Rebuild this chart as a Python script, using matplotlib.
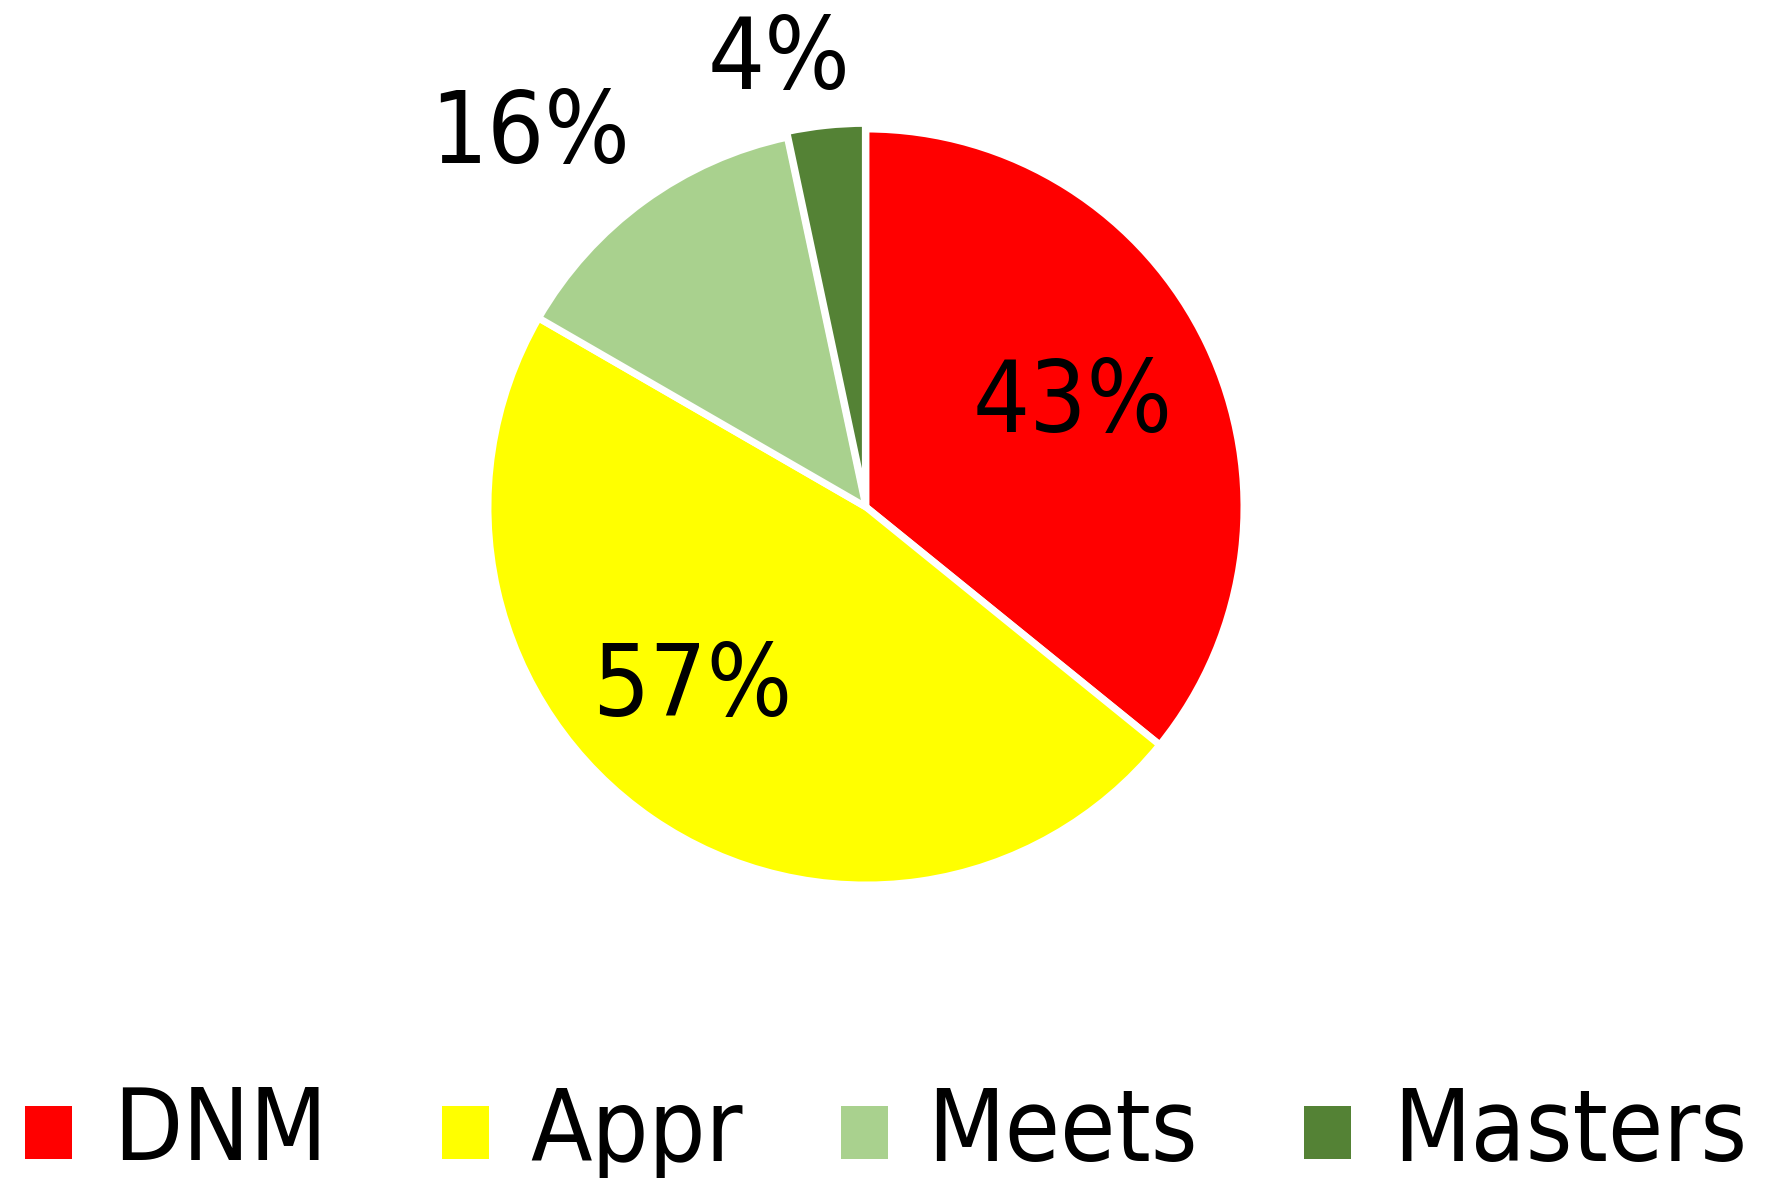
import numpy as np
import matplotlib
matplotlib.use("Agg")
import matplotlib.pyplot as plt
from matplotlib.patches import Rectangle

categories = ["DNM", "Appr", "Meets", "Masters"]
values = [43, 57, 16, 4]
value_labels = ["43%", "57%", "16%", "4%"]
colors = ["#FF0000", "#FFFF00", "#A9D18E", "#548235"]

plt.rcParams['font.family'] = ['DejaVu Sans']

fig = plt.figure(figsize=(17.68, 11.78), dpi=100)
ax = fig.add_axes([0.276, 0.2487, 0.4276, 0.6418])
wedges, _ = ax.pie(values, colors=colors, startangle=90, counterclock=False,
                   explode=[0, 0, 0, 0.015],
                   wedgeprops=dict(edgecolor="white", linewidth=5))
ax.set_xlim(-1, 1)
ax.set_ylim(-1, 1)
ax.set_aspect('equal')
ax.axis('off')

label_r = [0.61, 0.664, 1.324, 1.20]
label_da = [1, -9.3, 6.1, 5]
for w, lab, r, da in zip(wedges, value_labels, label_r, label_da):
    ang = np.deg2rad((w.theta1 + w.theta2) / 2 + da)
    ax.text(r * np.cos(ang), r * np.sin(ang), lab, ha='center', va='center',
            fontsize=72, fontstretch='condensed', color='black', clip_on=False)

# legend (manual)
sq_x = [25, 442, 841, 1304]
txt_x = [113, 530, 927, 1393]
yc = 1133
for c, col, sx, tx in zip(categories, colors, sq_x, txt_x):
    fig.patches.append(Rectangle((sx / 1768, 1 - (yc + 26) / 1178), 47 / 1768, 53 / 1178,
                                 transform=fig.transFigure, facecolor=col, edgecolor='none'))
    fig.text(tx / 1768, 1 - yc / 1178, c, ha='left', va='center', fontsize=72,
             fontstretch='condensed')

fig.savefig("out.png", dpi=100)
